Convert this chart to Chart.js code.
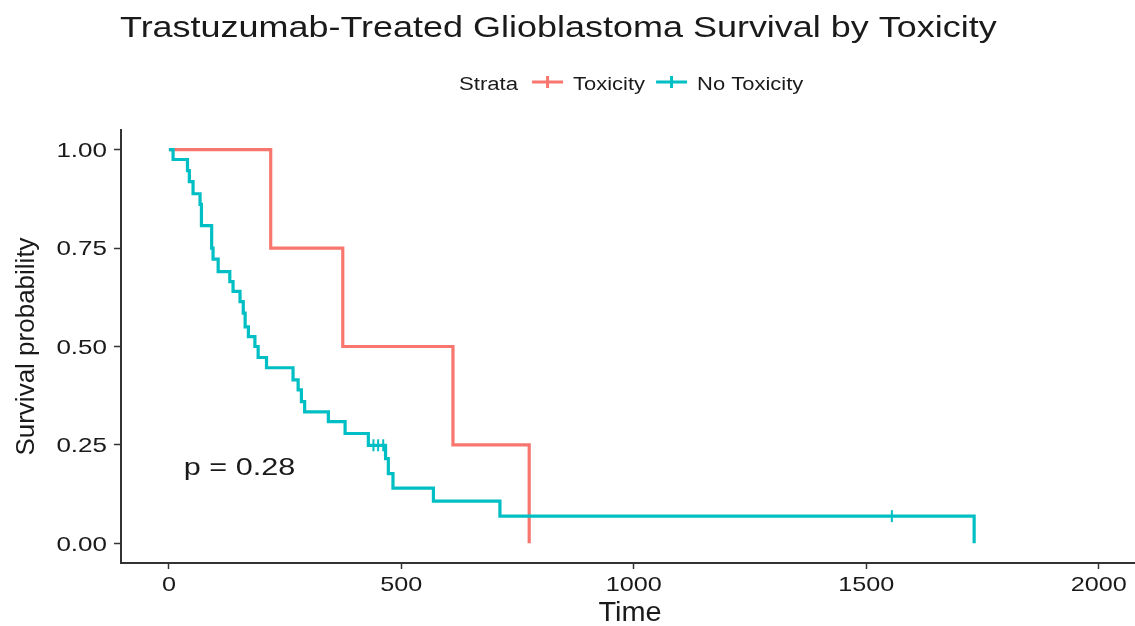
<!DOCTYPE html>
<html>
<head>
<meta charset="utf-8">
<script src="https://cdn.jsdelivr.net/npm/chart.js@4.4.1/dist/chart.umd.min.js"></script>
<style>
  html, body { margin: 0; padding: 0; background: #fff; }
  #wrap { width: 1135px; height: 626px; position: relative; }
</style>
</head>
<body>
<div id="wrap"><canvas id="kmChart"></canvas></div>
<script>
// Kaplan-Meier steps
const toxTime = [0, 219, 374, 611, 775];
const toxSurv = [1, 0.75, 0.5, 0.25, 0];

const noToxTime = [0, 9, 40, 44, 52, 67, 70, 92, 95, 106, 131, 138, 153, 160, 164, 171, 185, 192, 210,
  267, 278, 285, 292, 343, 379, 429, 466, 472, 482, 569, 712, 1555, 1732];
const noToxSurv = [1, 0.975, 0.947, 0.919, 0.888, 0.861, 0.807, 0.75, 0.722, 0.69, 0.665, 0.64, 0.614, 0.585, 0.55, 0.525, 0.5, 0.472, 0.446,
  0.415, 0.39, 0.36, 0.334, 0.309, 0.279, 0.249, 0.215, 0.177, 0.14, 0.107, 0.069, 0.069, 0];

// censored observations (+ marks)
const censorTime = [440, 450, 461, 1555];
const censorSurv = [0.249, 0.249, 0.249, 0.069];

const xTicks = [0, 500, 1000, 1500, 2000];
const yTicks = [0, 0.25, 0.5, 0.75, 1];

const titleText = "Trastuzumab-Treated Glioblastoma Survival by Toxicity";
const legendTitle = "Strata";
const strataNames = ["Toxicity", "No Toxicity"];
const strataColors = ["#F8766D", "#00BFC4"];
const xLabel = "Time";
const yLabel = "Survival probability";
const pvalText = "p = 0.28";
const pvalPos = [32, 0.174];

const FONT = "'Liberation Sans', Arial, Helvetica, sans-serif";
const INK = "#1a1a1a";

function toPoints(xs, ys) {
  return xs.map((x, i) => ({ x: x, y: ys[i] }));
}

// the picture's text is a little wider than plain Arial, so stretch it
function drawText(ctx, text, x, y, size, stretch, align) {
  ctx.save();
  ctx.font = size + "px " + FONT;
  ctx.translate(x, y);
  ctx.scale(stretch, 1);
  ctx.textAlign = align || "left";
  ctx.textBaseline = "alphabetic";
  ctx.fillText(text, 0, 0);
  const w = ctx.measureText(text).width * stretch;
  ctx.restore();
  return w;
}

const textPlugin = {
  id: "kmText",
  afterDraw(chart) {
    const ctx = chart.ctx;
    const area = chart.chartArea;
    const xs = chart.scales.x;
    const ys = chart.scales.y;
    ctx.save();
    ctx.fillStyle = INK;

    drawText(ctx, titleText, area.left - 1, 37, 29, 1.24);

    // legend row
    let lx = 459;
    const ly = 90;
    lx += drawText(ctx, legendTitle, lx, ly, 18, 1.23) + 14;
    strataNames.forEach((name, i) => {
      ctx.strokeStyle = strataColors[i];
      ctx.lineWidth = 3;
      ctx.beginPath();
      ctx.moveTo(lx, ly - 8);
      ctx.lineTo(lx + 31, ly - 8);
      ctx.moveTo(lx + 15.5, ly - 14);
      ctx.lineTo(lx + 15.5, ly - 2);
      ctx.stroke();
      lx += 41;
      lx += drawText(ctx, name, lx, ly, 18, 1.22) + 11;
    });

    // tick labels
    yTicks.forEach((v) => {
      drawText(ctx, v.toFixed(2), 107, ys.getPixelForValue(v) + 7.2, 20, 1.3, "right");
    });
    xTicks.forEach((v) => {
      drawText(ctx, String(v), xs.getPixelForValue(v), 591, 21, 1.2, "center");
    });

    // axis titles
    drawText(ctx, xLabel, (area.left + area.right) / 2 + 2, 621, 27, 1.07, "center");
    ctx.save();
    ctx.translate(34, (area.top + area.bottom) / 2);
    ctx.rotate(-Math.PI / 2);
    drawText(ctx, yLabel, 0, 0, 26, 1, "center");
    ctx.restore();

    // p-value
    drawText(ctx, pvalText, xs.getPixelForValue(pvalPos[0]), ys.getPixelForValue(pvalPos[1]), 23, 1.33);
    ctx.restore();
  },
};

const ctx = document.getElementById("kmChart").getContext("2d");
new Chart(ctx, {
  type: "line",
  data: {
    datasets: [
      {
        label: strataNames[1],
        data: toPoints(noToxTime, noToxSurv),
        stepped: "before",
        borderColor: strataColors[1],
        borderWidth: 3.2,
        pointRadius: 0,
        fill: false,
        order: 1,
      },
      {
        label: strataNames[0],
        data: toPoints(toxTime, toxSurv),
        stepped: "before",
        borderColor: strataColors[0],
        borderWidth: 3.2,
        pointRadius: 0,
        fill: false,
        order: 2,
      },
      {
        label: "censored",
        data: toPoints(censorTime, censorSurv),
        showLine: false,
        pointStyle: "line",
        rotation: 90,
        pointRadius: 6,
        borderWidth: 2,
        borderColor: strataColors[1],
        order: 0,
      },
    ],
  },
  options: {
    responsive: true,
    maintainAspectRatio: false,
    animation: false,
    devicePixelRatio: 1,
    layout: { autoPadding: false, padding: { top: 130, right: 0, left: 0, bottom: 0 } },
    plugins: {
      legend: { display: false },
      tooltip: { enabled: false },
    },
    scales: {
      x: {
        type: "linear",
        min: -103,
        max: 2078,
        afterBuildTicks: (scale) => {
          scale.ticks = xTicks.map((v) => ({ value: v }));
        },
        afterFit: (scale) => {
          scale.height = 63;
        },
        grid: { drawOnChartArea: false, tickLength: 6, tickColor: "#333", tickWidth: 1.5 },
        border: { color: "#333", width: 2 },
        ticks: { display: false },
      },
      y: {
        type: "linear",
        min: -0.05,
        max: 1.05,
        afterBuildTicks: (scale) => {
          scale.ticks = yTicks.map((v) => ({ value: v }));
        },
        afterFit: (scale) => {
          scale.width = 121;
        },
        grid: { drawOnChartArea: false, tickLength: 7, tickColor: "#333", tickWidth: 1.5 },
        border: { color: "#333", width: 2 },
        ticks: { display: false },
      },
    },
  },
  plugins: [textPlugin],
});
</script>
</body>
</html>
